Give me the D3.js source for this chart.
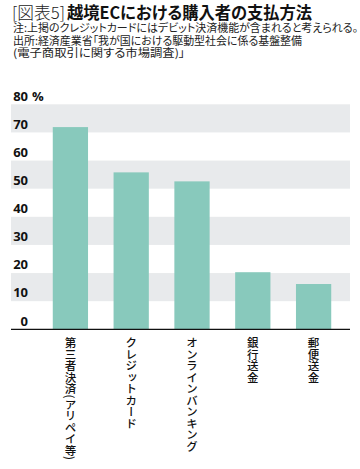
<!DOCTYPE html>
<html><head><meta charset="utf-8">
<script src="https://cdn.jsdelivr.net/npm/d3@7"></script>
<style>
html,body{margin:0;padding:0;background:#fff;}
svg{display:block;}
.palt{font-feature-settings:"palt" 1;}
</style></head>
<body>
<script>
const categories = ["第三者決済(アリペイ等)", "クレジットカード", "オンラインバンキング", "銀行送金", "郵便送金"];
const values = [71.9, 55.8, 52.6, 20.3, 16.1];
const ticks = [0, 10, 20, 30, 40, 50, 60, 70, 80];
const titlePrefix = "[図表5]";
const titleMain = "越境ECにおける購入者の支払方法";
const notes = ["注:上掲のクレジットカードにはデビット決済機能が含まれると考えられる。",
  "出所:経済産業省「我が国における駆動型社会に係る基盤整備",
  "(電子商取引に関する市場調査)」"];

const W = 360, H = 469;
const svg = d3.select("body").append("svg").attr("width", W).attr("height", H);
const jp = "'Noto Sans CJK JP','Noto Sans',sans-serif";

const head = svg.append("text").attr("font-family", jp).attr("class", "palt");
head.append("tspan").attr("x", 12).attr("y", 18.6)
  .attr("font-weight", 300).attr("font-size", 16.5)
  .attr("textLength", 53).attr("lengthAdjust", "spacingAndGlyphs")
  .attr("fill", "#222").text(titlePrefix);
head.append("tspan").attr("x", 67).attr("y", 18.6)
  .attr("font-weight", 700).attr("font-size", 16.5)
  .attr("textLength", 245).attr("lengthAdjust", "spacingAndGlyphs")
  .attr("fill", "#111").text(titleMain);

const noteLens = [345, 289, 172];
const noteY = [32.3, 44.6, 56.9];
notes.forEach((t, i) => {
  head.append("tspan").attr("x", 13).attr("y", noteY[i])
    .attr("font-weight", 400).attr("font-size", 11)
    .attr("textLength", noteLens[i]).attr("lengthAdjust", "spacingAndGlyphs")
    .attr("fill", "#222").text(t);
});

const y = d3.scaleLinear().domain([0, 80]).range([329.3, 104.3]);
const x = d3.scaleBand().domain(categories).range([40, 344]).paddingInner(0.42).paddingOuter(0.21);
const left = 11, right = 350;

// alternating bands
const bandPairs = [[10, 20], [30, 40], [50, 60], [70, 80]];
svg.append("g").selectAll("rect").data(bandPairs).join("rect")
  .attr("x", left).attr("width", right - left)
  .attr("y", d => y(d[1])).attr("height", d => y(d[0]) - y(d[1]))
  .attr("fill", "#e8eaec");

// bars
svg.append("g").selectAll("rect").data(values).join("rect")
  .attr("x", (d, i) => x(categories[i])).attr("width", x.bandwidth())
  .attr("y", d => y(d)).attr("height", d => y(0) - y(d))
  .attr("fill", "#88c9bc");

// baseline
svg.append("line").attr("x1", left).attr("x2", right)
  .attr("y1", y(0)).attr("y2", y(0)).attr("stroke", "#111").attr("stroke-width", 1.2);

// tick labels
const tg = svg.append("g").attr("font-family", "'Open Sans',sans-serif")
  .attr("font-weight", 700).attr("font-size", 13).attr("fill", "#111");
tg.selectAll("text").data(ticks).join("text")
  .attr("x", 28).attr("y", d => y(d) - 3.8).attr("text-anchor", "end").text(d => d);
tg.append("text").attr("x", 32).attr("y", y(80) - 3.8).text("%");

// category labels (vertical)
svg.append("g").selectAll("text").data(categories).join("text")
  .attr("x", d => x(d) + x.bandwidth() / 2).attr("y", 337)
  .attr("font-family", jp).attr("font-weight", 500).attr("font-size", 11.5)
  .attr("fill", "#111")
  .style("writing-mode", "vertical-rl")
  .text(d => d);
</script>
</body></html>
